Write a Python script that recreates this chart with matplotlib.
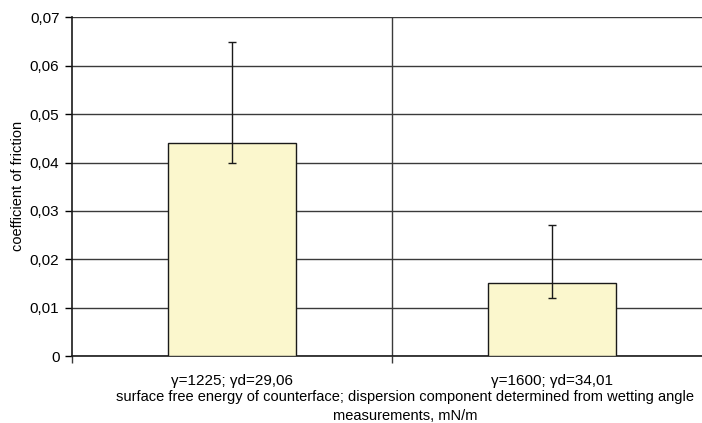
import matplotlib
matplotlib.use("Agg")
import matplotlib.pyplot as plt
import numpy as np

plt.rcParams['font.family'] = ['Liberation Sans', 'DejaVu Sans']

categories = ["γ=1225; γd=29,06", "γ=1600; γd=34,01"]
values = [0.044, 0.015]
err_low = [0.004, 0.003]
err_high = [0.021, 0.012]
yticks = [0, 0.01, 0.02, 0.03, 0.04, 0.05, 0.06, 0.07]
ytick_labels = ["0", "0,01", "0,02", "0,03", "0,04", "0,05", "0,06", "0,07"]
xlabel_lines = ["surface free energy of counterface; dispersion component determined from wetting angle",
                "measurements, mN/m"]

W, H = 702, 423
fig = plt.figure(figsize=(W / 100, H / 100), dpi=100)
left, right, top, bottom = 72, 712, 17.5, 356
ax = fig.add_axes([left / W, (H - bottom) / H, (right - left) / W, (bottom - top) / H])

x = np.arange(len(categories))
ax.bar(x, values, width=0.4, color="#FBF7CD", edgecolor="#1a1a1a", linewidth=1.0, zorder=3)
ax.errorbar(x, values, yerr=[err_low, err_high], fmt="none", ecolor="#1a1a1a",
            elinewidth=1.0, capsize=3, capthick=1.0, zorder=4)

ax.set_xlim(-0.5, 1.5)
ax.set_ylim(0, 0.07)
ax.set_yticks(yticks)
ax.set_yticklabels(ytick_labels, fontsize=11)
ax.yaxis.grid(True, color="#3a3a3a", linewidth=1.0, zorder=0)
ax.axvline(0.5, color="#3a3a3a", linewidth=1.0, zorder=0)

ax.set_xticks(x)
ax.set_xticklabels(categories, fontsize=11)
ax.tick_params(axis='x', length=0, pad=13)
ax.set_xticks([-0.5, 0.5], minor=True)
ax.tick_params(axis='x', which='minor', length=5, width=1.0, color="#3a3a3a")
ax.tick_params(axis='y', length=5, width=1.0, pad=4)

for s in ["top", "right"]:
    ax.spines[s].set_visible(False)
ax.spines["left"].set_color("#1a1a1a")
ax.spines["bottom"].set_color("#1a1a1a")
ax.spines["left"].set_linewidth(1.2)
ax.spines["bottom"].set_linewidth(1.2)
ax.axhline(0.07, color="#1a1a1a", linewidth=1.2, zorder=1)

fig.text(18 / W, 1 - 186 / H, "coefficient of friction", rotation=90,
         ha="center", va="center", fontsize=10.5)
fig.text(405 / W, 1 - 401 / H, xlabel_lines[0], ha="center", va="baseline", fontsize=10.5)
fig.text(405 / W, 1 - 419.5 / H, xlabel_lines[1], ha="center", va="baseline", fontsize=10.5)

fig.savefig("out.png", dpi=100)
